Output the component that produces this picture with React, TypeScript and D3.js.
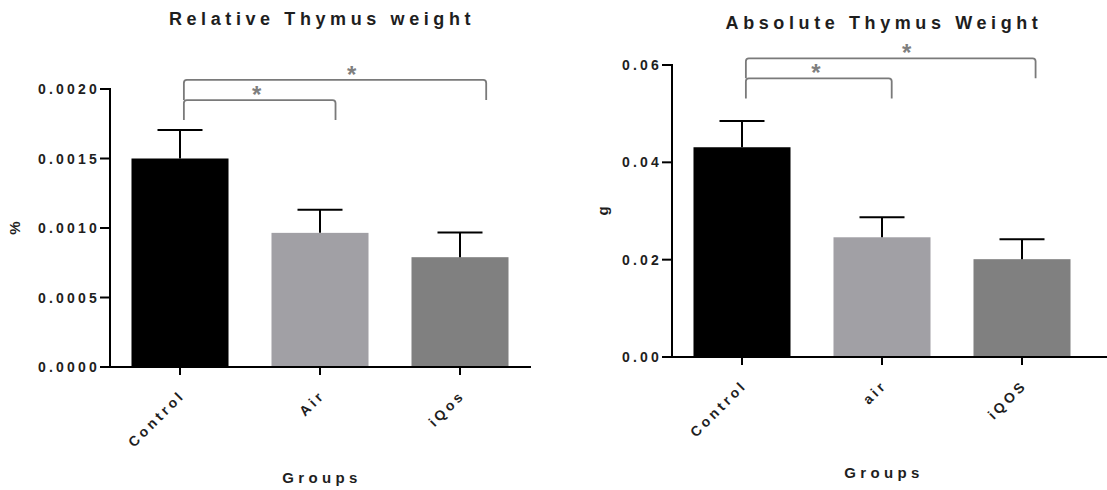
import React from 'react';
import * as d3 from 'd3';

// relative thymus weight (%)
const relGroups = ['Control', 'Air', 'iQos'];
const relMeans = [0.0015, 0.000965, 0.00079];
const relErr = [0.000205, 0.000167, 0.000177];
const relTicks = [0, 0.0005, 0.001, 0.0015, 0.002];

// absolute thymus weight (g)
const absGroups = ['Control', 'air', 'iQOS'];
const absMeans = [0.0431, 0.0246, 0.0201];
const absErr = [0.0054, 0.0041, 0.0041];
const absTicks = [0, 0.02, 0.04, 0.06];

// significance brackets: from/to group index, top and leg bottom in data units
const relSig = [
  { from: 0, to: 1, top: 0.00192, bottom: 0.001777, label: '*' },
  { from: 0, to: 2, top: 0.002065, bottom: 0.00192, label: '*' },
];
const absSig = [
  { from: 0, to: 1, top: 0.05726, bottom: 0.05313, label: '*' },
  { from: 0, to: 2, top: 0.06138, bottom: 0.05726, label: '*' },
];

const barColors = ['#000000', '#a1a0a5', '#808080'];
const FONT = '"Liberation Sans", Arial, sans-serif';
const TEXT = '#1e1e1e';

type Sig = { from: number; to: number; top: number; bottom: number; label: string };

function Panel(props: {
  left: number; right: number; axisEnd: number; top: number; bottom: number;
  groups: string[]; means: number[]; errs: number[]; ticks: number[]; fmt: string;
  title: string; titleY: number; yLabel: string; yLabelX: number; groupsY: number;
  sig: Sig[]; toFrac: number[];
}) {
  const { left, right, axisEnd, top, bottom, groups, means, errs, ticks, fmt, title, titleY,
    yLabel, yLabelX, groupsY, sig, toFrac } = props;
  const x = d3.scaleBand<string>().domain(groups).range([left, right]).paddingInner(0.307).paddingOuter(0.1535);
  const y = d3.scaleLinear().domain([0, ticks[ticks.length - 1]]).range([bottom, top]);
  const f = d3.format(fmt);
  const bw = x.bandwidth();
  const cx = (g: string) => (x(g) as number) + bw / 2;
  const midX = (left + right) / 2;
  const starPos = [0.48, 0.555];

  return (
    <g fontFamily={FONT} fontWeight="bold" fill={TEXT}>
      <text x={midX + 2} y={titleY} textAnchor="middle" fontSize={18} letterSpacing={4.6}>{title}</text>

      {groups.map((g, i) => (
        <rect key={g} x={x(g)} y={y(means[i])} width={bw} height={y(0) - y(means[i])} fill={barColors[i]} />
      ))}

      {groups.map((g, i) => (
        <g key={g} stroke="#000" strokeWidth={2} fill="none">
          <line x1={cx(g)} x2={cx(g)} y1={y(means[i])} y2={y(means[i] + errs[i])} />
          <line x1={cx(g) - 22.5} x2={cx(g) + 22.5} y1={y(means[i] + errs[i])} y2={y(means[i] + errs[i])} />
        </g>
      ))}

      {/* y axis */}
      <line x1={left} x2={left} y1={top - 1} y2={bottom + 1} stroke="#000" strokeWidth={2} />
      {ticks.map(t => (
        <g key={t}>
          <line x1={left - 10} x2={left} y1={y(t)} y2={y(t)} stroke="#000" strokeWidth={2} />
          <text x={left - 10} y={y(t)} dy="0.36em" textAnchor="end" fontSize={14} letterSpacing={3.2}>{f(t)}</text>
        </g>
      ))}
      <text transform={`translate(${yLabelX},${(top + bottom) / 2}) rotate(-90)`} textAnchor="middle" fontSize={15}>{yLabel}</text>

      {/* x axis */}
      <line x1={left - 1} x2={axisEnd} y1={bottom} y2={bottom} stroke="#000" strokeWidth={2} />
      {groups.map(g => (
        <g key={g}>
          <line x1={cx(g)} x2={cx(g)} y1={bottom} y2={bottom + 8} stroke="#000" strokeWidth={2} />
          <text transform={`translate(${cx(g) + 6},${bottom + 29}) rotate(-45)`} textAnchor="end" fontSize={14} letterSpacing={3.4}>{g}</text>
        </g>
      ))}
      <text x={midX + 2} y={groupsY} textAnchor="middle" fontSize={15} letterSpacing={4.4}>Groups</text>

      {/* significance */}
      {sig.map((s, k) => {
        const x1 = (x(groups[s.from]) as number) + bw * 0.54;
        const x2 = (x(groups[s.to]) as number) + bw * toFrac[k];
        const yt = y(s.top), yb = y(s.bottom), r = 3;
        const d = `M${x1},${yb}V${yt + r}Q${x1},${yt} ${x1 + r},${yt}H${x2 - r}Q${x2},${yt} ${x2},${yt + r}V${yb}`;
        return (
          <g key={k}>
            <path d={d} fill="none" stroke="#7a7a7a" strokeWidth={1.8} />
            <text x={x1 + (x2 - x1) * starPos[k]} y={yt + 3} textAnchor="middle" fontSize={24} fill="#7f7f7f">{s.label}</text>
          </g>
        );
      })}
    </g>
  );
}

export default function App() {
  return (
    <svg width={1107} height={490} style={{ position: 'absolute', left: 0, top: 0, background: '#fff' }}>
      <Panel left={110} right={530} axisEnd={531} top={89} bottom={367}
        groups={relGroups} means={relMeans} errs={relErr} ticks={relTicks} fmt=".4f"
        title="Relative Thymus weight" titleY={25} yLabel="%" yLabelX={20} groupsY={483}
        sig={relSig} toFrac={[0.66, 0.77]} />
      <Panel left={672} right={1092} axisEnd={1107} top={65} bottom={357}
        groups={absGroups} means={absMeans} errs={absErr} ticks={absTicks} fmt=".2f"
        title="Absolute Thymus Weight" titleY={29} yLabel="g" yLabelX={608} groupsY={478}
        sig={absSig} toFrac={[0.6, 0.64]} />
    </svg>
  );
}
